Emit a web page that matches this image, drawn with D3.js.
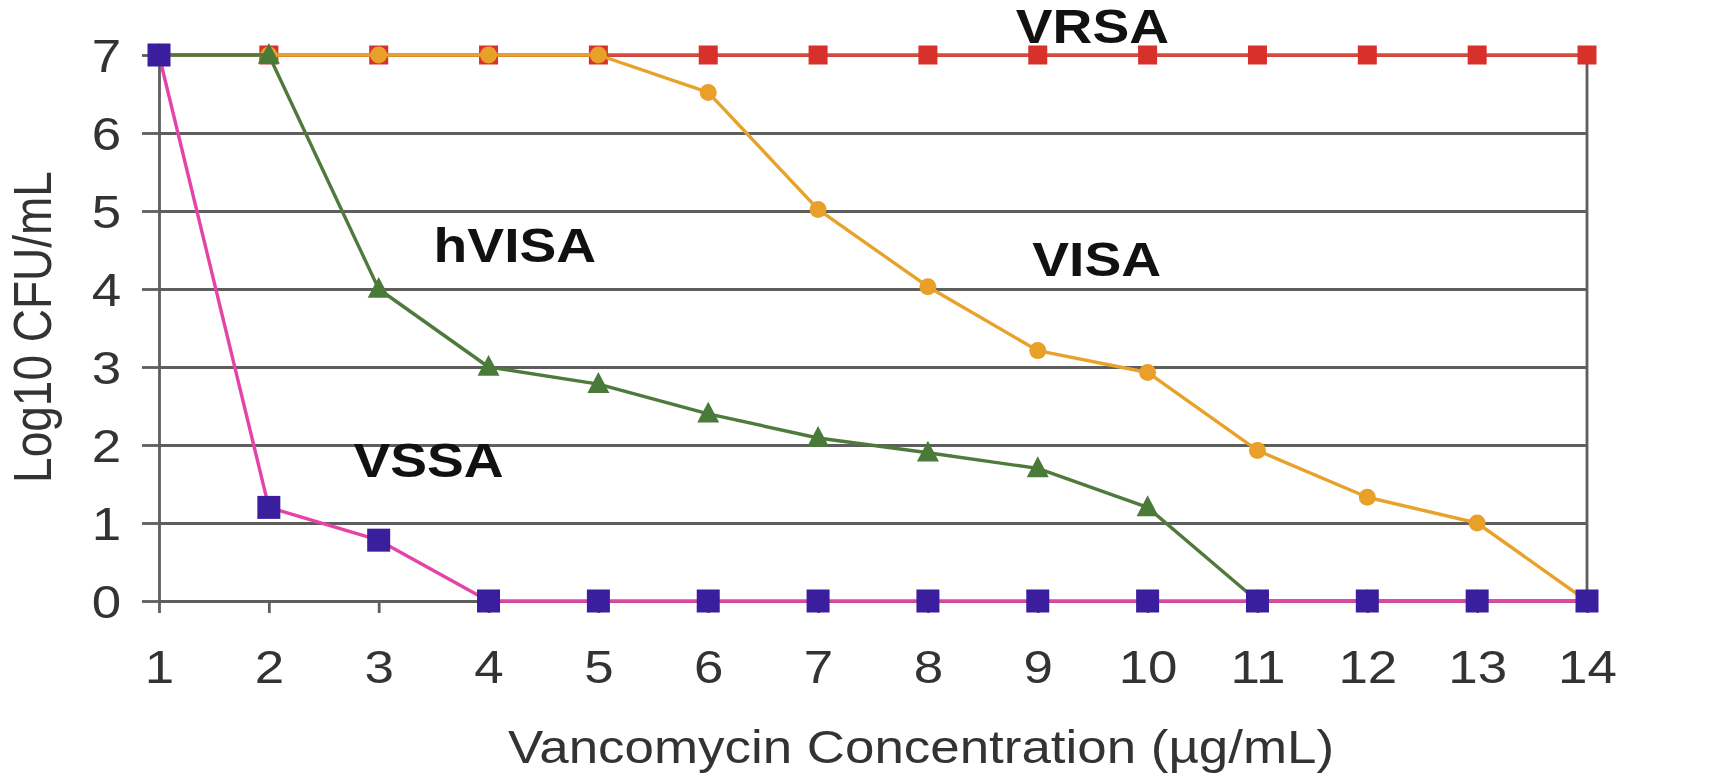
<!DOCTYPE html>
<html>
<head>
<meta charset="utf-8">
<script src="https://cdn.jsdelivr.net/npm/d3@7"></script>
<style>
  html, body { margin: 0; padding: 0; background: #fff; }
  svg { display: block; }
  text { font-family: "Liberation Sans", Arial, Helvetica, sans-serif; }
</style>
</head>
<body>
<svg id="chart" width="1729" height="777"></svg>
<script>
// ---- data ----
const concentrations = [1, 2, 3, 4, 5, 6, 7, 8, 9, 10, 11, 12, 13, 14];
const yTicks = [0, 1, 2, 3, 4, 5, 6, 7];
const vrsa  = [7, 7, 7, 7, 7, 7, 7, 7, 7, 7, 7, 7, 7, 7];
const visa  = [7, 7, 7, 7, 7, 6.52, 5.02, 4.03, 3.21, 2.93, 1.93, 1.33, 1.0, 0];
const hvisa = [7, 7, 4.0, 3.0, 2.78, 2.4, 2.09, 1.9, 1.7, 1.2, 0, 0, 0, 0];
const vssa  = [7, 1.2, 0.78, 0, 0, 0, 0, 0, 0, 0, 0, 0, 0, 0];
const seriesNames = ["VRSA", "VISA", "hVISA", "VSSA"];
const xTitle = "Vancomycin Concentration (\u00b5g/mL)";
const yTitle = "Log10 CFU/mL";

// ---- layout / style (not data) ----
const W = 1729, H = 777;
const plot = { left: 159, right: 1587, top: 55, bottom: 601 };
const SX = 1.15; // horizontal stretch of the reference text
const styles = {
  VRSA:  { line: "#e0463a", fill: "#d8302a", marker: "square", size: 19 },
  VISA:  { line: "#e8a22c", fill: "#e8a02a", marker: "circle", size: 17 },
  hVISA: { line: "#4e7a3c", fill: "#4a7a38", marker: "triangle", size: 22 },
  VSSA:  { line: "#e444a8", fill: "#3a1e9e", marker: "square", size: 23 }
};
// annotation anchors in data units (start of text, baseline)
const annotations = [
  { text: "VRSA",  cx: 8.8,  cy: 7.15 },
  { text: "hVISA", cx: 3.5,  cy: 4.34 },
  { text: "VISA",  cx: 8.95, cy: 4.17 },
  { text: "VSSA",  cx: 2.77, cy: 1.59 }
];

const svg = d3.select("#chart");
svg.append("rect").attr("width", W).attr("height", H).attr("fill", "#fff");

const x = d3.scaleLinear().domain([1, 14]).range([plot.left, plot.right]);
const y = d3.scaleLinear().domain([0, 7]).range([plot.bottom, plot.top]);

const gridColor = "#5e5e5e";

// gridlines
const grid = svg.append("g").attr("transform", `translate(${plot.left},0)`)
  .call(d3.axisLeft(y).tickValues(yTicks).tickSize(-(plot.right - plot.left)).tickFormat(""));
grid.select(".domain").remove();
grid.selectAll("line").attr("stroke", gridColor).attr("stroke-width", 2.8);

// right border
svg.append("line")
  .attr("x1", x(14)).attr("x2", x(14)).attr("y1", y(7)).attr("y2", y(0))
  .attr("stroke", gridColor).attr("stroke-width", 2.8);

// y axis
const yAxis = svg.append("g").attr("transform", `translate(${plot.left},0)`)
  .call(d3.axisLeft(y).tickValues(yTicks).tickSize(17).tickSizeOuter(0).tickPadding(16).tickFormat(d3.format("d")));
yAxis.select(".domain").attr("stroke", gridColor).attr("stroke-width", 2.8);
yAxis.selectAll("line").attr("stroke", gridColor).attr("stroke-width", 2.8);
yAxis.selectAll("text")
  .attr("font-size", 46).attr("fill", "#333")
  .attr("dy", "0.36em")
  .attr("transform", `scale(${SX},1)`);

// x axis
const xAxis = svg.append("g").attr("transform", `translate(0,${plot.bottom})`)
  .call(d3.axisBottom(x).tickValues(concentrations).tickSize(12).tickSizeOuter(0).tickPadding(37).tickFormat(d3.format("d")));
xAxis.select(".domain").remove();
xAxis.selectAll("line").attr("stroke", gridColor).attr("stroke-width", 2.8);
xAxis.selectAll("text")
  .attr("font-size", 46).attr("fill", "#333")
  .attr("transform", `scale(${SX},1)`);

// series
const seriesData = { VRSA: vrsa, VISA: visa, hVISA: hvisa, VSSA: vssa };
const line = d3.line().x((d, i) => x(concentrations[i])).y(d => y(d));

seriesNames.forEach(name => {
  const vals = seriesData[name];
  const st = styles[name];
  const g = svg.append("g").attr("class", "series-" + name);
  g.append("path").datum(vals)
    .attr("d", line).attr("fill", "none")
    .attr("stroke", st.line).attr("stroke-width", 3.4)
    .attr("stroke-linejoin", "round");
  const pts = g.selectAll(".pt").data(vals).enter();
  if (st.marker === "square") {
    pts.append("rect")
      .attr("x", (d, i) => x(concentrations[i]) - st.size / 2)
      .attr("y", d => y(d) - st.size / 2)
      .attr("width", st.size).attr("height", st.size)
      .attr("fill", st.fill);
  } else if (st.marker === "circle") {
    pts.append("circle")
      .attr("cx", (d, i) => x(concentrations[i]))
      .attr("cy", d => y(d))
      .attr("r", st.size / 2)
      .attr("fill", st.fill);
  } else {
    const s = st.size;
    pts.append("path")
      .attr("d", (d, i) => {
        const cx = x(concentrations[i]), cy = y(d);
        return `M${cx},${cy - s * 0.55}L${cx + s / 2},${cy + s * 0.4}L${cx - s / 2},${cy + s * 0.4}Z`;
      })
      .attr("fill", st.fill);
  }
});

// annotations
annotations.forEach(a => {
  const px = x(a.cx), py = y(a.cy);
  svg.append("text")
    .attr("transform", `translate(${px},${py}) scale(${SX},1)`)
    .attr("font-size", 48).attr("font-weight", "bold").attr("fill", "#111")
    .text(a.text);
});

// axis titles
svg.append("text")
  .attr("transform", `translate(${(plot.left + plot.right) / 2 + 48},763) scale(${SX},1)`)
  .attr("text-anchor", "middle").attr("font-size", 46).attr("fill", "#333")
  .text(xTitle);

svg.append("text")
  .attr("transform", `translate(51,327) scale(${SX},1) rotate(-90)`)
  .attr("text-anchor", "middle").attr("font-size", 46).attr("fill", "#333")
  .text(yTitle);
</script>
</body>
</html>
